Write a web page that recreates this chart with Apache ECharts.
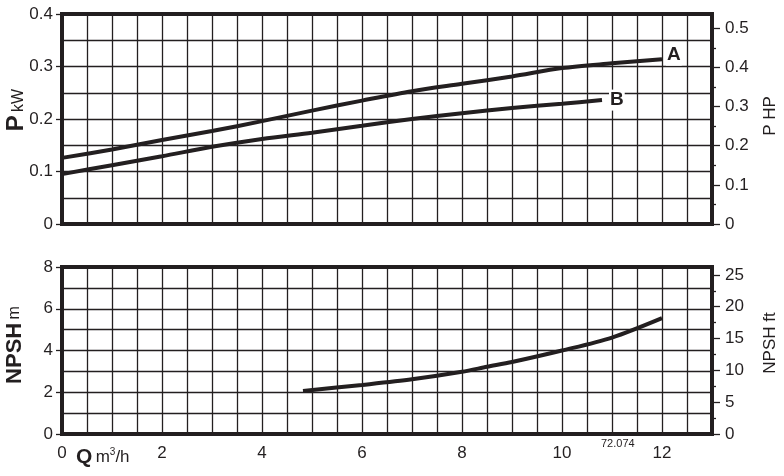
<!DOCTYPE html>
<html><head><meta charset="utf-8">
<script src="https://cdn.jsdelivr.net/npm/echarts@6/dist/echarts.min.js"></script>
<style>html,body{margin:0;padding:0;background:#fff}#c{width:784px;height:476px}</style>
</head><body><div id="c"></div>
<script>
// Flow Q (m3/h) and power P (kW) for curves A and B
const qA = [0, 1, 2, 3, 4, 5, 6, 7, 8, 9, 10, 11, 12];
const pA = [0.126, 0.142, 0.160, 0.177, 0.196, 0.216, 0.235, 0.253, 0.267, 0.281, 0.297, 0.306, 0.314];
const qB = [0, 1, 2, 3, 4, 5, 6, 7, 8, 9, 10, 10.8];
const pB = [0.095, 0.112, 0.129, 0.147, 0.162, 0.174, 0.187, 0.200, 0.211, 0.221, 0.229, 0.236];
// NPSH (m)
const qN = [4.82, 6, 7, 8, 8.5, 9, 10, 11, 12];
const npsh = [2.06, 2.35, 2.62, 2.98, 3.22, 3.45, 4.0, 4.62, 5.55];
// Tick labels
const xLabels = [0, 2, 4, 6, 8, 10, 12];
const hpLabels = [0, 0.1, 0.2, 0.3, 0.4, 0.5];
const hpMinor = [0.05, 0.15, 0.25, 0.35, 0.45];
const ftLabels = [0, 5, 10, 15, 20, 25];
const ftMinor = [2.5, 7.5, 12.5, 17.5, 22.5];

const INK = '#231f20';
const FONT = 'Liberation Sans, Arial, sans-serif';
const pairs = (xs, ys) => xs.map((x, i) => [x, ys[i]]);

const chart = echarts.init(document.getElementById('c'));
const gridLine = { show: true, lineStyle: { color: INK, width: 1.3 } };
const lbl = { color: INK, fontSize: 17, fontFamily: FONT };

const xBase = (gi, showLabels) => ({
  type: 'value', gridIndex: gi, min: 0, max: 13, interval: 1,
  axisLine: { show: false }, axisTick: { show: false },
  splitLine: gridLine,
  minorTick: { show: false, splitNumber: 2 },
  minorSplitLine: gridLine,
  axisLabel: showLabels ? Object.assign({}, lbl, {
    fontSize: 17, margin: 11,
    formatter: v => xLabels.includes(v) ? String(v) : ''
  }) : { show: false }
});

const rightAxis = (gi, max, labels, minor) => ([
  { type: 'value', gridIndex: gi, position: 'right', min: 0, max: max,
    axisLine: { show: false }, splitLine: { show: false },
    axisTick: { show: true, customValues: labels, length: 8, lineStyle: { color: INK, width: 1.3 } },
    axisLabel: Object.assign({}, lbl, { customValues: labels, margin: 13 }) },
  { type: 'value', gridIndex: gi, position: 'right', min: 0, max: max,
    axisLine: { show: false }, splitLine: { show: false },
    axisTick: { show: true, customValues: minor, length: 4, lineStyle: { color: INK, width: 1.3 } },
    axisLabel: { show: false } }
]);

const option = {
  animation: false,
  backgroundColor: '#fff',
  grid: [
    { left: 62, top: 14, width: 650, height: 210, show: true, borderColor: INK, borderWidth: 4, backgroundColor: 'transparent' },
    { left: 62, top: 267, width: 650, height: 167, show: true, borderColor: INK, borderWidth: 4, backgroundColor: 'transparent' }
  ],
  xAxis: [xBase(0, false), xBase(1, true)],
  yAxis: [
    { type: 'value', gridIndex: 0, min: 0, max: 0.4, interval: 0.1,
      axisLine: { show: false },
      axisTick: { show: true, length: 6, lineStyle: { color: INK, width: 1.3 } },
      splitLine: gridLine, minorTick: { show: false, splitNumber: 2 }, minorSplitLine: gridLine,
      axisLabel: Object.assign({}, lbl, { margin: 9 }) },
    ...rightAxis(0, 0.4 / 0.7457, hpLabels, hpMinor),
    { type: 'value', gridIndex: 1, min: 0, max: 8, interval: 2,
      axisLine: { show: false },
      axisTick: { show: true, length: 6, lineStyle: { color: INK, width: 1.3 } },
      splitLine: gridLine, minorTick: { show: false, splitNumber: 2 }, minorSplitLine: gridLine,
      axisLabel: Object.assign({}, lbl, { margin: 9 }) },
    ...rightAxis(1, 8 * 3.28084, ftLabels, ftMinor)
  ],
  series: [
    { type: 'line', xAxisIndex: 0, yAxisIndex: 0, data: pairs(qA, pA), smooth: 0.3,
      showSymbol: false, lineStyle: { color: INK, width: 4 }, z: 5,
      endLabel: { show: true, formatter: 'A', color: INK, fontSize: 19, fontWeight: 'bold', fontFamily: FONT, distance: 4, offset: [0, -4],
        backgroundColor: '#fff', padding: [1, 1] } },
    { type: 'line', xAxisIndex: 0, yAxisIndex: 0, data: pairs(qB, pB), smooth: 0.3,
      showSymbol: false, lineStyle: { color: INK, width: 4 }, z: 5,
      endLabel: { show: true, formatter: 'B', color: INK, fontSize: 19, fontWeight: 'bold', fontFamily: FONT, distance: 7,
        backgroundColor: '#fff', padding: [1, 1] } },
    { type: 'line', xAxisIndex: 1, yAxisIndex: 3, data: pairs(qN, npsh), smooth: 0.3,
      showSymbol: false, lineStyle: { color: INK, width: 4 }, z: 5 }
  ],
  graphic: [
    { type: 'text', x: 4, y: 110, rotation: Math.PI / 2,
      style: { text: '{b|P} {s|kW}', fill: INK, align: 'center', verticalAlign: 'top',
        rich: { b: { fontSize: 24, fontWeight: 'bold', fontFamily: FONT, fill: INK },
                s: { fontSize: 16, fontFamily: FONT, fill: INK, padding: [6, 0, 0, 0] } } } },
    { type: 'text', x: 4, y: 345, rotation: Math.PI / 2,
      style: { text: '{b|NPSH} {s|m}', fill: INK, align: 'center', verticalAlign: 'top',
        rich: { b: { fontSize: 22, fontWeight: 'bold', fontFamily: FONT, fill: INK },
                s: { fontSize: 16, fontFamily: FONT, fill: INK } } } },
    { type: 'text', x: 762, y: 116, rotation: Math.PI / 2,
      style: { text: 'P HP', fill: INK, fontSize: 17, fontFamily: FONT, align: 'center', verticalAlign: 'top' } },
    { type: 'text', x: 762, y: 343, rotation: Math.PI / 2,
      style: { text: 'NPSH ft', fill: INK, fontSize: 17, fontFamily: FONT, align: 'center', verticalAlign: 'top' } },
    { type: 'text', x: 76, y: 447,
      style: { text: '{b|Q} {s|m}{u|3}{s|/h}', fill: INK,
        rich: { b: { fontSize: 21, fontWeight: 'bold', fontFamily: FONT, fill: INK },
                s: { fontSize: 17, fontFamily: FONT, fill: INK },
                u: { fontSize: 10, fontFamily: FONT, fill: INK, verticalAlign: 'top', padding: [0, 0, 8, 0] } } } },
    { type: 'text', x: 601, y: 438,
      style: { text: '72.074', fill: INK, fontSize: 11, fontFamily: FONT } }
  ]
};
chart.setOption(option);
</script>
</body></html>
